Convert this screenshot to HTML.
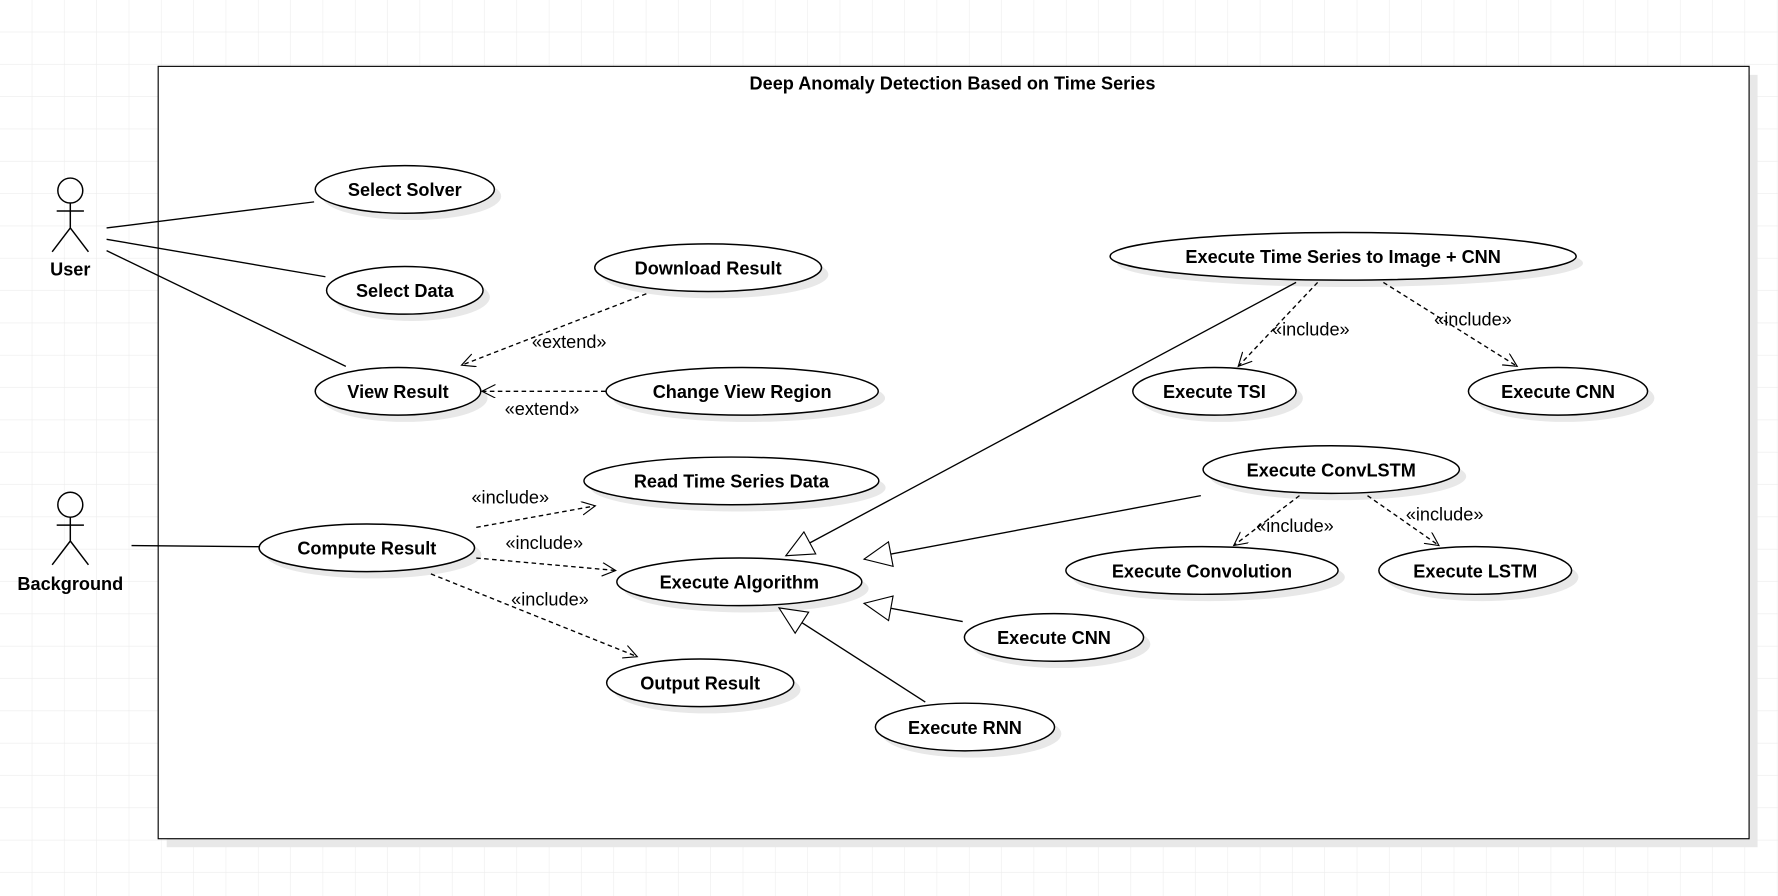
<!DOCTYPE html>
<html><head><meta charset="utf-8"><style>
html,body{margin:0;padding:0;background:#fff;}
svg{display:block;}
text{font-family:"Liberation Sans",Arial,sans-serif;font-size:16px;fill:#000;}
.b{font-weight:bold;}
</style></head><body>
<svg width="1778" height="896" viewBox="0 0 1568 790" preserveAspectRatio="none" xmlns="http://www.w3.org/2000/svg">
<defs>
<pattern id="g" width="28.5" height="28.5" patternUnits="userSpaceOnUse">
<path d="M28.5 0V28.5H0" fill="none" stroke="#ececec" stroke-width="1"/>
</pattern>
<marker id="oa" markerUnits="userSpaceOnUse" markerWidth="20" markerHeight="20" refX="12" refY="6" orient="auto">
<path d="M0 0L12 6L0 12" fill="none" stroke="#000" stroke-width="1"/>
</marker>
<marker id="tri" markerUnits="userSpaceOnUse" markerWidth="30" markerHeight="30" refX="25" refY="12" orient="auto">
<path d="M1 1L25 12L1 23Z" fill="#fff" stroke="#000" stroke-width="1"/>
</marker>
</defs>
<rect width="1568" height="790" fill="url(#g)"/>
<rect x="147" y="66" width="1403" height="681" fill="#e8e8e8"/>
<rect x="139.5" y="58.5" width="1403" height="681" fill="#fff" stroke="#000"/>
<text class="b" x="840" y="79" text-anchor="middle">Deep Anomaly Detection Based on Time Series</text>

<g fill="none" stroke="#000" stroke-width="1.3">
<circle cx="62" cy="168" r="11" fill="#fff"/>
<path d="M62 179V201M50 186H74M46 222L62 201L78 222"/>
<circle cx="62" cy="445" r="11" fill="#fff"/>
<path d="M62 456V477M50 463H74M46 498L62 477L78 498"/>
</g>
<text class="b" x="62" y="243" text-anchor="middle">User</text>
<text class="b" x="62" y="520" text-anchor="middle">Background</text>

<g fill="#e8e8e8">
<ellipse cx="363" cy="173" rx="79" ry="21"/>
<ellipse cx="363" cy="262" rx="69" ry="21"/>
<ellipse cx="357" cy="351" rx="73" ry="21"/>
<ellipse cx="630.5" cy="242" rx="100" ry="21"/>
<ellipse cx="660.5" cy="351" rx="120" ry="21"/>
<ellipse cx="651" cy="430" rx="130" ry="21"/>
<ellipse cx="329.5" cy="489" rx="95" ry="21"/>
<ellipse cx="658" cy="519" rx="108" ry="21"/>
<ellipse cx="623.5" cy="608" rx="82.5" ry="21"/>
<ellipse cx="857" cy="647" rx="79" ry="21"/>
<ellipse cx="935.5" cy="568" rx="79" ry="21"/>
<ellipse cx="1190.5" cy="232" rx="205.5" ry="21"/>
<ellipse cx="1077" cy="351" rx="72" ry="21"/>
<ellipse cx="1380" cy="351" rx="79" ry="21"/>
<ellipse cx="1180" cy="420" rx="113" ry="21"/>
<ellipse cx="1066" cy="509" rx="120" ry="21"/>
<ellipse cx="1307" cy="509" rx="85" ry="21"/>
</g>
<g fill="#fff" stroke="#000" stroke-width="1.3">
<ellipse cx="357" cy="167" rx="79" ry="21"/>
<ellipse cx="357" cy="256" rx="69" ry="21"/>
<ellipse cx="351" cy="345" rx="73" ry="21"/>
<ellipse cx="624.5" cy="236" rx="100" ry="21"/>
<ellipse cx="654.5" cy="345" rx="120" ry="21"/>
<ellipse cx="645" cy="424" rx="130" ry="21"/>
<ellipse cx="323.5" cy="483" rx="95" ry="21"/>
<ellipse cx="652" cy="513" rx="108" ry="21"/>
<ellipse cx="617.5" cy="602" rx="82.5" ry="21"/>
<ellipse cx="851" cy="641" rx="79" ry="21"/>
<ellipse cx="929.5" cy="562" rx="79" ry="21"/>
<ellipse cx="1184.5" cy="226" rx="205.5" ry="21"/>
<ellipse cx="1071" cy="345" rx="72" ry="21"/>
<ellipse cx="1374" cy="345" rx="79" ry="21"/>
<ellipse cx="1174" cy="414" rx="113" ry="21"/>
<ellipse cx="1060" cy="503" rx="120" ry="21"/>
<ellipse cx="1301" cy="503" rx="85" ry="21"/>
</g>
<g text-anchor="middle">
<text class="b" x="357" y="173">Select Solver</text>
<text class="b" x="357" y="262">Select Data</text>
<text class="b" x="351" y="351">View Result</text>
<text class="b" x="624.5" y="242">Download Result</text>
<text class="b" x="654.5" y="351">Change View Region</text>
<text class="b" x="645" y="430">Read Time Series Data</text>
<text class="b" x="323.5" y="489">Compute Result</text>
<text class="b" x="652" y="519">Execute Algorithm</text>
<text class="b" x="617.5" y="608">Output Result</text>
<text class="b" x="851" y="647">Execute RNN</text>
<text class="b" x="929.5" y="568">Execute CNN</text>
<text class="b" x="1184.5" y="232">Execute Time Series to Image + CNN</text>
<text class="b" x="1071" y="351">Execute TSI</text>
<text class="b" x="1374" y="351">Execute CNN</text>
<text class="b" x="1174" y="420">Execute ConvLSTM</text>
<text class="b" x="1060" y="509">Execute Convolution</text>
<text class="b" x="1301" y="509">Execute LSTM</text>
</g>

<g fill="none" stroke="#000" stroke-width="1.2">
<path d="M94 201L277 178M94 211L287 244M94 221L305 323M116 481L228 482"/>
<path d="M1143 249L693 490" marker-end="url(#tri)"/>
<path d="M1059 437L762 493" marker-end="url(#tri)"/>
<path d="M849 548L762 532" marker-end="url(#tri)"/>
<path d="M816 619L687 536" marker-end="url(#tri)"/>
</g>
<g fill="none" stroke="#000" stroke-width="1.2" stroke-dasharray="4 3" marker-end="url(#oa)">
<path d="M570 259L407 322"/>
<path d="M534 345L425 345"/>
<path d="M420 465L525 446"/>
<path d="M420 492L543 503"/>
<path d="M380 506L562 579"/>
<path d="M1162 249L1092 323"/>
<path d="M1220 249L1338 323"/>
<path d="M1146 437L1088 481"/>
<path d="M1206 437L1269 481"/>
</g>
<g text-anchor="middle">
<text x="502" y="307">«extend»</text>
<text x="478" y="366">«extend»</text>
<text x="450" y="444">«include»</text>
<text x="480" y="484">«include»</text>
<text x="485" y="534">«include»</text>
<text x="1156" y="296">«include»</text>
<text x="1299" y="287">«include»</text>
<text x="1142" y="469">«include»</text>
<text x="1274" y="459">«include»</text>
</g>
</svg>
</body></html>
